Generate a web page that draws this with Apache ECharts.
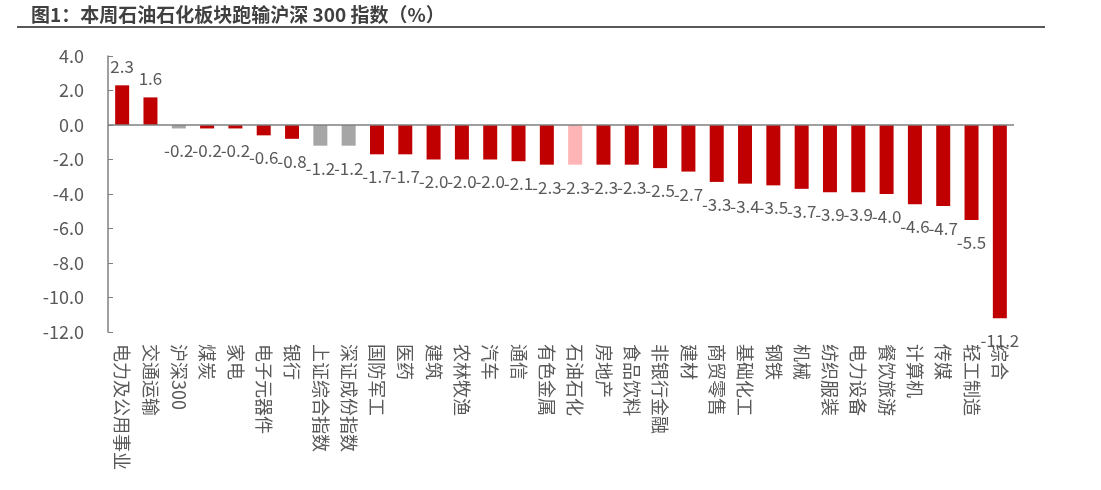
<!DOCTYPE html>
<html>
<head>
<meta charset="utf-8">
<script src="https://cdn.jsdelivr.net/npm/echarts@6/dist/echarts.min.js"></script>
<style>
	html, body { margin: 0; padding: 0; background: #fff; }
	#chart { width: 1101px; height: 490px; }
</style>
</head>
<body>
<div id="chart"></div>
<script>
	// 行业及指数名称
	var categories = ['电力及公用事业', '交通运输', '沪深300', '煤炭', '家电', '电子元器件', '银行', '上证综合指数',
		'深证成份指数', '国防军工', '医药', '建筑', '农林牧渔', '汽车', '通信', '有色金属', '石油石化', '房地产',
		'食品饮料', '非银行金融', '建材', '商贸零售', '基础化工', '钢铁', '机械', '纺织服装', '电力设备',
		'餐饮旅游', '计算机', '传媒', '轻工制造', '综合'];
	// 本周涨跌幅 (%)
	var values = [2.3, 1.6, -0.2, -0.2, -0.2, -0.6, -0.8, -1.2, -1.2, -1.7, -1.7, -2.0, -2.0, -2.0, -2.1, -2.3,
		-2.3, -2.3, -2.3, -2.5, -2.7, -3.3, -3.4, -3.5, -3.7, -3.9, -3.9, -4.0, -4.6, -4.7, -5.5, -11.2];
	// 指数用灰色，石油石化高亮
	var indexNames = ['沪深300', '上证综合指数', '深证成份指数'];
	var highlight = '石油石化';
	var yTicks = [-12, -10, -8, -6, -4, -2, 0, 2, 4];

	var barData = values.map(function (v, i) {
		var name = categories[i];
		var color = '#C00000';
		if (indexNames.indexOf(name) >= 0) color = '#A6A6A6';
		if (name === highlight) color = '#FFB5B5';
		return {
			value: v,
			itemStyle: { color: color },
			label: { position: v >= 0 ? 'top' : 'bottom', distance: v >= 0 ? 10 : 14 }
		};
	});

	var chart = echarts.init(document.getElementById('chart'));
	chart.setOption({
		animation: false,
		backgroundColor: '#ffffff',
		textStyle: { fontFamily: '"Noto Sans CJK SC", "Noto Sans", sans-serif' },
		title: {
			text: '图1：本周石油石化板块跑输沪深 300 指数（%）',
			left: 26,
			top: 0,
			textStyle: { fontSize: 19, fontWeight: 'bold', color: '#404040' }
		},
		graphic: [{
			type: 'line',
			shape: { x1: 17, y1: 27, x2: 1045, y2: 27 },
			style: { stroke: '#595959', lineWidth: 2 }
		}],
		grid: { left: 108, right: 87, top: 56, height: 276 },
		xAxis: {
			type: 'category',
			data: categories,
			axisLine: { show: false, onZero: false },
			axisTick: { show: false },
			axisLabel: {
				interval: 0,
				rotate: -90,
				margin: 12,
				fontSize: 18,
				color: '#595959'
			}
		},
		yAxis: {
			type: 'value',
			min: yTicks[0],
			max: yTicks[yTicks.length - 1],
			interval: 2,
			axisLine: { show: true, lineStyle: { color: '#7F7F7F', width: 1.5 } },
			axisTick: { show: true, inside: true, length: 5, lineStyle: { color: '#7F7F7F' } },
			splitLine: { show: false },
			axisLabel: {
				margin: 24,
				fontSize: 18,
				color: '#595959',
				formatter: function (v) { return v.toFixed(1); }
			}
		},
		series: [{
			type: 'bar',
			data: barData,
			barWidth: 14,
			label: {
				show: true,
				fontSize: 17,
				color: '#595959',
				formatter: function (p) { return p.value.toFixed(1); }
			},
			markLine: {
				silent: true,
				symbol: 'none',
				label: { show: false },
				lineStyle: { color: '#7F7F7F', width: 1.5, type: 'solid' },
				data: [{ yAxis: 0 }]
			}
		}]
	});
</script>
</body>
</html>
